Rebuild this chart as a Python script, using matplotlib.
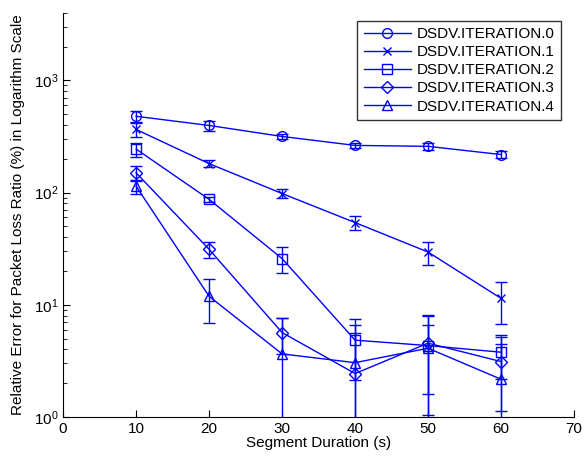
import matplotlib
matplotlib.use("Agg")
import matplotlib.pyplot as plt
import numpy as np

plt.rcParams['font.family'] = ['Liberation Sans', 'DejaVu Sans']

# segment duration (s)
durations = [10, 20, 30, 40, 50, 60]

series_names = ["DSDV.ITERATION.0", "DSDV.ITERATION.1", "DSDV.ITERATION.2",
                "DSDV.ITERATION.3", "DSDV.ITERATION.4"]
markers = ["o", "x", "s", "D", "^"]

# relative error (%)
it0 = [478, 396, 316, 263, 258, 218]
it1 = [365, 181, 98, 54, 29.5, 11.4]
it2 = [244, 87, 25.8, 4.84, 4.33, 3.78]
it3 = [150, 31.2, 5.66, 2.44, 4.55, 3.12]
it4 = [114, 11.9, 3.65, 3.05, 4.1, 2.17]

# error bar half-widths
err0 = [55, 40, 15, 15, 20, 15]
err1 = [50, 12, 9, 8, 7, 4.6]
err2 = [35, 5, 6.8, 2.7, 3.6, 1.6]
err3 = [22, 5, 2.0, 4.2, 3.5, 2.0]
err4 = [16, 5, 4.0, 2.5, 2.5, 2.3]

values = [it0, it1, it2, it3, it4]
errors = [err0, err1, err2, err3, err4]
msizes = [7, 6, 6.5, 6, 7.5]

fig = plt.figure(figsize=(5.84, 4.61), dpi=100)
ax = fig.add_axes([0.108, 0.0954, 0.875, 0.877])
ax.set_yscale('log')

blue = (0, 0, 1)
handles = []
for name, mk, ms, v, e in zip(series_names, markers, msizes, values, errors):
    ax.errorbar(durations, v, yerr=e, fmt='none', ecolor=blue, elinewidth=1,
                capsize=4, capthick=1)
    h, = ax.plot(durations, v, color=blue, marker=mk, markersize=ms,
                 markerfacecolor='none', markeredgecolor=blue, linewidth=1,
                 label=name)
    handles.append(h)

ax.set_xlim(0, 70)
ax.set_ylim(1, 4000)
ax.set_xticks(np.arange(0, 71, 10))
ax.set_xlabel("Segment Duration (s)", fontsize=11, labelpad=0)
ax.set_ylabel("Relative Error for Packet Loss Ratio (%) in Logarithm Scale",
              fontsize=11, labelpad=6)

ax.spines['top'].set_visible(False)
ax.spines['right'].set_visible(False)
ax.tick_params(axis='both', which='both', direction='in', labelsize=11)
ax.tick_params(axis='both', which='major', length=5)
ax.tick_params(axis='y', which='minor', length=3)
ax.tick_params(axis='x', which='minor', bottom=False)

leg = ax.legend(handles=handles, loc='upper right', fontsize=11,
                bbox_to_anchor=(561 / 584, 1 - 21 / 461),
                bbox_transform=fig.transFigure, borderaxespad=0,
                frameon=True, fancybox=False, edgecolor='black',
                handlelength=3.1, handletextpad=0.4, labelspacing=0.27,
                borderpad=0.4)
leg.get_frame().set_linewidth(1)

fig.savefig("out.png", dpi=100)
